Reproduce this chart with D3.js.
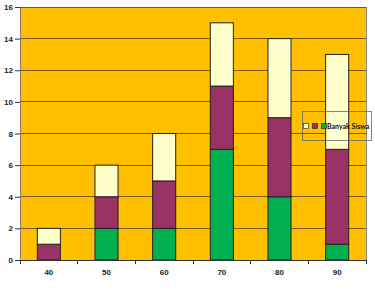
<!DOCTYPE html>
<html><head><meta charset="utf-8">
<script src="https://cdn.jsdelivr.net/npm/d3@7"></script>
<style>body{margin:0;background:#fff;}svg{display:block;font-family:Lato,"Liberation Sans",Arial,sans-serif;}</style>
</head><body><svg id="c" width="375" height="292"></svg>
<script>
const categories = ["40","50","60","70","80","90"];
const greenVals = [0,2,2,7,4,1];
const purpleVals = [1,2,3,4,5,6];
const creamVals = [1,2,3,4,5,6];
const yTicks = [0,2,4,6,8,10,12,14,16];
const legendLabel = "Banyak Siswa";

const svg = d3.select("#c");
const L=20,R=366,T=7,B=260;
const x = d3.scaleBand().domain(categories).range([L,R]).paddingInner(0.6).paddingOuter(0.3);
const xb = d3.scaleBand().domain(categories).range([L,R]);
const y = d3.scaleLinear().domain([0,16]).range([B,T]);

svg.append("rect").attr("x",L).attr("y",T).attr("width",R-L).attr("height",B-T).attr("fill","#FFC000");
svg.append("g").selectAll("line").data(yTicks.filter(d=>d>0)).join("line")
  .attr("x1",L).attr("x2",R).attr("y1",d=>y(d)).attr("y2",d=>y(d))
  .attr("stroke","#7a5a08").attr("stroke-width",1).attr("shape-rendering","crispEdges");
svg.append("line").attr("x1",R).attr("x2",R).attr("y1",T).attr("y2",B).attr("stroke","#8c8c8c").attr("shape-rendering","crispEdges");

const rows = categories.map((c,i)=>({c, g:greenVals[i], p:purpleVals[i], w:creamVals[i]}));
const stack = d3.stack().keys(["g","p","w"])(rows);
const colors = {g:"#00B050",p:"#993366",w:"#FFFFCC"};
svg.append("g").selectAll("g").data(stack).join("g").attr("fill",s=>colors[s.key])
  .selectAll("rect").data(s=>s.filter(d=>d[1]>d[0])).join("rect")
  .attr("x",d=>x(d.data.c)).attr("width",x.bandwidth())
  .attr("y",d=>y(d[1])).attr("height",d=>y(d[0])-y(d[1]))
  .attr("stroke","#222").attr("stroke-width",1);

const ya = svg.append("g").attr("transform",`translate(${L},0)`)
  .call(d3.axisLeft(y).tickValues(yTicks).tickSize(5).tickSizeOuter(0));
ya.select(".domain").attr("stroke","#8c7a60");
ya.selectAll(".tick line").attr("stroke","#333");
ya.selectAll("text").attr("font-size",8).attr("font-weight","bold").attr("fill","#222").attr("x",-7);
const xa = svg.append("g").attr("transform",`translate(0,${B})`)
  .call(d3.axisBottom(x).tickSize(0).tickSizeOuter(0));
xa.select(".domain").remove();
xa.selectAll("text").attr("font-size",8).attr("font-weight","bold").attr("fill","#222").attr("dy","0").attr("y",15);
svg.append("line").attr("x1",L).attr("x2",R).attr("y1",B).attr("y2",B).attr("stroke","#333").attr("shape-rendering","crispEdges");
svg.append("g").selectAll("line").data(categories.concat(["end"])).join("line")
  .attr("x1",(d,i)=>L+i*xb.step()).attr("x2",(d,i)=>L+i*xb.step())
  .attr("y1",B).attr("y2",B+4).attr("stroke","#333").attr("shape-rendering","crispEdges");

const lg = svg.append("g");
svg.append("clipPath").attr("id","lc").append("rect").attr("x",302).attr("y",111).attr("width",69).attr("height",30);
lg.append("rect").attr("x",302.5).attr("y",111.5).attr("width",69).attr("height",29)
  .attr("fill","none").attr("stroke","#666").attr("stroke-width",0.8);
[colors.w,colors.p,colors.g].forEach((c,i)=>{
  lg.append("rect").attr("x",303.5+i*9).attr("y",123.5).attr("width",5).attr("height",5)
    .attr("fill",c).attr("stroke","#222").attr("stroke-width",0.6);
});
lg.append("text").attr("x",327).attr("y",128.5).attr("font-size",7).attr("font-weight","bold")
  .attr("fill","#111").attr("clip-path","url(#lc)").text(legendLabel);
</script></body></html>
